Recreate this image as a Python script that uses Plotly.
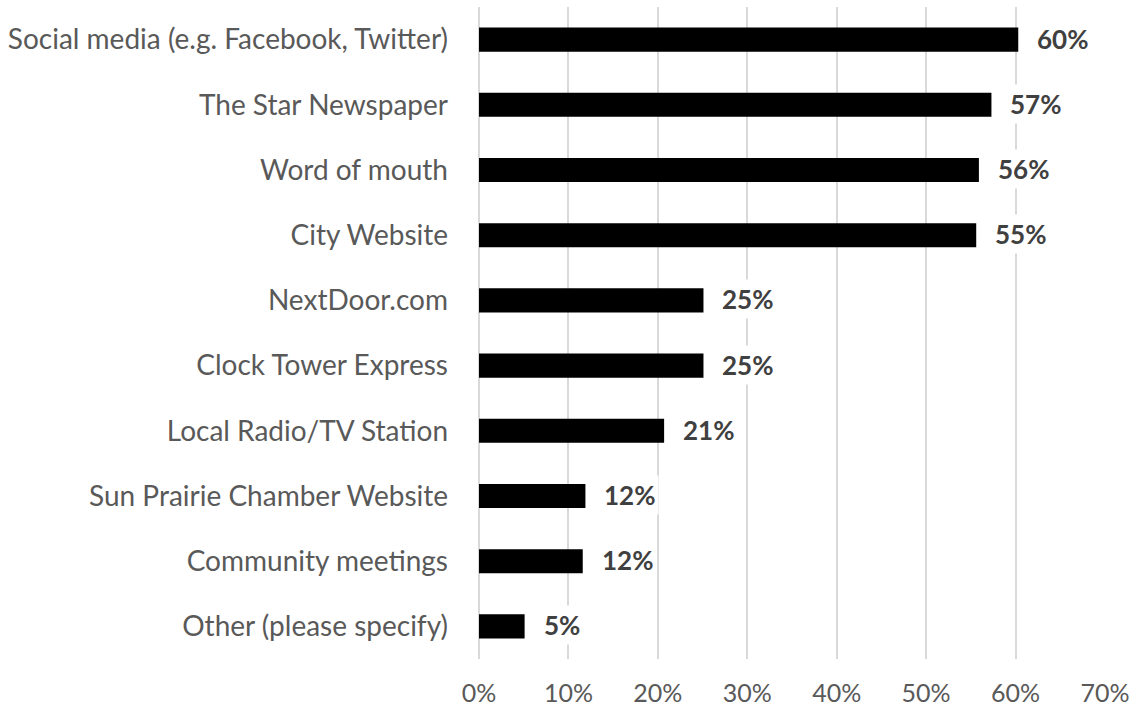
import plotly.graph_objects as go

categories = [
    "Social media (e.g. Facebook, Twitter)",
    "The Star Newspaper",
    "Word of mouth",
    "City Website",
    "NextDoor.com",
    "Clock Tower Express",
    "Local Radio/TV Station",
    "Sun Prairie Chamber Website",
    "Community meetings",
    "Other (please specify)",
]
values = [60.3, 57.3, 55.9, 55.6, 25.1, 25.1, 20.7, 11.9, 11.6, 5.1]
value_labels = ["60%", "57%", "56%", "55%", "25%", "25%", "21%", "12%", "12%", "5%"]
tick_vals = [0, 10, 20, 30, 40, 50, 60, 70]
tick_text = ["0%", "10%", "20%", "30%", "40%", "50%", "60%", "70%"]

FONT = "Lato"

fig = go.Figure()
fig.add_trace(go.Bar(
    x=values,
    y=categories,
    orientation="h",
    marker=dict(color="#000000", line=dict(width=0)),
    width=0.37,
    hoverinfo="skip",
))

annotations = []
for v, c, t in zip(values, categories, value_labels):
    annotations.append(dict(
        x=v, y=c, xref="x", yref="y", text="<b>" + t + "</b>",
        showarrow=False, xanchor="left", yanchor="middle",
        xshift=15, yshift=1, bgcolor="white", borderpad=3,
        font=dict(family=FONT, size=26, color="#404040"),
    ))

fig.update_layout(
    width=1135, height=708,
    margin=dict(l=479, r=30, t=7, b=49, autoexpand=False),
    paper_bgcolor="white", plot_bgcolor="white",
    showlegend=False,
    annotations=annotations,
    font=dict(family=FONT, color="#595959", size=24),
    xaxis=dict(
        range=[0, 70], tickvals=tick_vals, ticktext=tick_text,
        showgrid=True, gridcolor="#d9d9d9", gridwidth=1.5,
        zeroline=True, zerolinecolor="#d9d9d9", zerolinewidth=1.5,
        showline=False, ticks="", ticklabelstandoff=17,
        tickfont=dict(family=FONT, size=25, color="#595959"),
        fixedrange=True, automargin=False,
    ),
    yaxis=dict(
        categoryorder="array", categoryarray=categories[::-1],
        autorange=False, range=[-0.5, len(categories) - 0.5],
        showgrid=False, zeroline=False, showline=False, ticks="",
        ticklabelstandoff=30,
        tickfont=dict(family=FONT, size=28, color="#595959"),
        fixedrange=True, automargin=False,
    ),
)

fig.write_html(
    "out.html",
    config={"displayModeBar": False},
    post_script="document.body.style.margin='0px';",
)
